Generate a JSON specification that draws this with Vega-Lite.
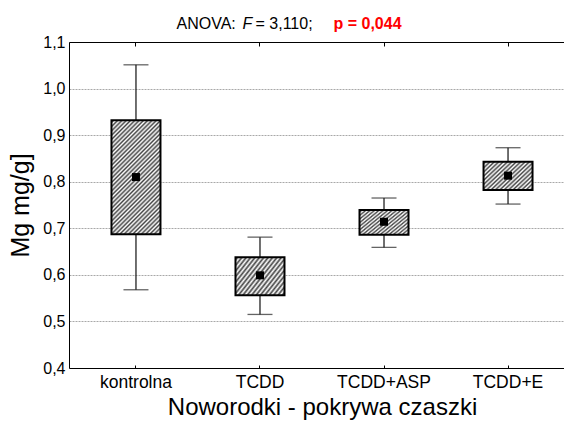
{
  "$schema": "https://vega.github.io/schema/vega-lite/v6.json",
  "width": 495,
  "height": 326,
  "autosize": "none",
  "padding": {"left": 69, "top": 42, "right": 0, "bottom": 61},
  "background": "white",
  "config": {
    "view": {"stroke": null},
    "font": "Liberation Sans",
    "axis": {"labelFont": "Liberation Sans", "titleFont": "Liberation Sans", "labelColor": "#000", "titleColor": "#000", "titleFontWeight": "normal", "domainColor": "#000", "domainWidth": 1, "tickColor": "#000"}
  },
  "data": {
    "values": [
      {"group": "kontrolna", "mean": 0.810, "lo": 0.687, "hi": 0.932, "wlo": 0.568, "whi": 1.051},
      {"group": "TCDD", "mean": 0.599, "lo": 0.556, "hi": 0.638, "wlo": 0.515, "whi": 0.681},
      {"group": "TCDD+ASP", "mean": 0.714, "lo": 0.686, "hi": 0.739, "wlo": 0.659, "whi": 0.765},
      {"group": "TCDD+E", "mean": 0.813, "lo": 0.782, "hi": 0.843, "wlo": 0.752, "whi": 0.873}
    ]
  },
  "resolve": {"axis": {"x": "independent", "y": "independent"}},
  "layer": [
    {
      "mark": {"type": "rule", "color": "#222", "strokeWidth": 1.3},
      "encoding": {
        "x": {"field": "group", "type": "nominal", "sort": ["kontrolna", "TCDD", "TCDD+ASP", "TCDD+E"],
          "scale": {"range": [0, 506], "paddingInner": 0, "paddingOuter": 0.04},
          "axis": {"orient": "bottom", "labelAngle": 0, "labelFontSize": 17.5, "labelPadding": 8, "ticks": true, "tickSize": -3, "tickWidth": 1, "domain": true, "grid": false,
            "title": "Noworodki - pokrywa czaszki", "titleFontSize": 24, "titleX": 253, "titleY": 46, "titleAlign": "center", "titleBaseline": "alphabetic"}},
        "y": {"field": "wlo", "type": "quantitative",
          "scale": {"domain": [0.4, 1.1], "nice": false, "zero": false},
          "axis": {"orient": "left", "values": [0.4, 0.5, 0.6, 0.7, 0.8, 0.9, 1.0, 1.1],
            "labelExpr": "replace(format(datum.value, '.1f'), '.', ',')", "labelFontSize": 16, "labelPadding": 4,
            "ticks": false, "tickSize": 0, "domain": true, "grid": true, "gridColor": "#a8a8a8", "gridDash": [2, 1], "gridWidth": 1,
            "title": "Mg mg/g]", "titleFontSize": 25, "titleX": -41, "titleY": 163, "titleAngle": 270, "titleAlign": "center", "titleBaseline": "alphabetic"}},
        "y2": {"field": "whi"}
      }
    },
    {
      "mark": {"type": "tick", "size": 25, "thickness": 1.3, "color": "#222"},
      "encoding": {
        "x": {"field": "group", "type": "nominal", "sort": ["kontrolna", "TCDD", "TCDD+ASP", "TCDD+E"],
          "axis": {"orient": "top", "labels": false, "ticks": true, "tickSize": -4, "tickWidth": 1, "domain": true, "grid": false,
            "title": "ANOVA:", "titleFontSize": 16, "titleX": 107, "titleY": -14, "titleAlign": "left", "titleBaseline": "alphabetic"}},
        "y": {"field": "whi", "type": "quantitative",
          "axis": {"orient": "right", "labels": false, "ticks": false, "domain": false, "grid": false,
            "title": "p = 0,044", "titleColor": "#ff0000", "titleFontWeight": "bold", "titleFontSize": 16, "titleAngle": 0,
            "titleX": -231, "titleY": -14, "titleAlign": "left", "titleBaseline": "alphabetic"}}
      }
    },
    {
      "mark": {"type": "tick", "size": 25, "thickness": 1.3, "color": "#222"},
      "encoding": {
        "x": {"field": "group", "type": "nominal", "sort": ["kontrolna", "TCDD", "TCDD+ASP", "TCDD+E"],
          "axis": {"orient": "top", "labels": false, "ticks": false, "domain": false, "grid": false,
            "title": "F", "titleFontStyle": "italic", "titleFontSize": 16, "titleX": 173, "titleY": -14, "titleAlign": "left", "titleBaseline": "alphabetic"}},
        "y": {"field": "wlo", "type": "quantitative", "axis": null}
      }
    },
    {
      "transform": [{"filter": "datum.group == 'kontrolna'"}],
      "mark": {"type": "bar", "width": 49, "stroke": "#000", "strokeWidth": 2,
        "fill": {"gradient": "linear", "x1": 0, "y1": 0, "x2": 0.5188, "y2": 1.2069, "stops": [
          {"offset": 0, "color": "#fff"}, {"offset": 0.0132, "color": "#444"}, {"offset": 0.0263, "color": "#fff"}, {"offset": 0.0395, "color": "#444"},
          {"offset": 0.0526, "color": "#fff"}, {"offset": 0.0658, "color": "#444"}, {"offset": 0.0789, "color": "#fff"}, {"offset": 0.0921, "color": "#444"},
          {"offset": 0.1053, "color": "#fff"}, {"offset": 0.1184, "color": "#444"}, {"offset": 0.1316, "color": "#fff"}, {"offset": 0.1447, "color": "#444"},
          {"offset": 0.1579, "color": "#fff"}, {"offset": 0.1711, "color": "#444"}, {"offset": 0.1842, "color": "#fff"}, {"offset": 0.1974, "color": "#444"},
          {"offset": 0.2105, "color": "#fff"}, {"offset": 0.2237, "color": "#444"}, {"offset": 0.2368, "color": "#fff"}, {"offset": 0.25, "color": "#444"},
          {"offset": 0.2632, "color": "#fff"}, {"offset": 0.2763, "color": "#444"}, {"offset": 0.2895, "color": "#fff"}, {"offset": 0.3026, "color": "#444"},
          {"offset": 0.3158, "color": "#fff"}, {"offset": 0.3289, "color": "#444"}, {"offset": 0.3421, "color": "#fff"}, {"offset": 0.3553, "color": "#444"},
          {"offset": 0.3684, "color": "#fff"}, {"offset": 0.3816, "color": "#444"}, {"offset": 0.3947, "color": "#fff"}, {"offset": 0.4079, "color": "#444"},
          {"offset": 0.4211, "color": "#fff"}, {"offset": 0.4342, "color": "#444"}, {"offset": 0.4474, "color": "#fff"}, {"offset": 0.4605, "color": "#444"},
          {"offset": 0.4737, "color": "#fff"}, {"offset": 0.4868, "color": "#444"}, {"offset": 0.5, "color": "#fff"}, {"offset": 0.5132, "color": "#444"},
          {"offset": 0.5263, "color": "#fff"}, {"offset": 0.5395, "color": "#444"}, {"offset": 0.5526, "color": "#fff"}, {"offset": 0.5658, "color": "#444"},
          {"offset": 0.5789, "color": "#fff"}, {"offset": 0.5921, "color": "#444"}, {"offset": 0.6053, "color": "#fff"}, {"offset": 0.6184, "color": "#444"},
          {"offset": 0.6316, "color": "#fff"}, {"offset": 0.6447, "color": "#444"}, {"offset": 0.6579, "color": "#fff"}, {"offset": 0.6711, "color": "#444"},
          {"offset": 0.6842, "color": "#fff"}, {"offset": 0.6974, "color": "#444"}, {"offset": 0.7105, "color": "#fff"}, {"offset": 0.7237, "color": "#444"},
          {"offset": 0.7368, "color": "#fff"}, {"offset": 0.75, "color": "#444"}, {"offset": 0.7632, "color": "#fff"}, {"offset": 0.7763, "color": "#444"},
          {"offset": 0.7895, "color": "#fff"}, {"offset": 0.8026, "color": "#444"}, {"offset": 0.8158, "color": "#fff"}, {"offset": 0.8289, "color": "#444"},
          {"offset": 0.8421, "color": "#fff"}, {"offset": 0.8553, "color": "#444"}, {"offset": 0.8684, "color": "#fff"}, {"offset": 0.8816, "color": "#444"},
          {"offset": 0.8947, "color": "#fff"}, {"offset": 0.9079, "color": "#444"}, {"offset": 0.9211, "color": "#fff"}, {"offset": 0.9342, "color": "#444"},
          {"offset": 0.9474, "color": "#fff"}, {"offset": 0.9605, "color": "#444"}, {"offset": 0.9737, "color": "#fff"}, {"offset": 0.9868, "color": "#444"},
          {"offset": 1, "color": "#fff"}
        ]}},
      "encoding": {
        "x": {"field": "group", "type": "nominal", "sort": ["kontrolna", "TCDD", "TCDD+ASP", "TCDD+E"],
          "axis": {"orient": "top", "labels": false, "ticks": false, "domain": false, "grid": false,
            "title": "= 3,110;", "titleFontSize": 16, "titleX": 186, "titleY": -14, "titleAlign": "left", "titleBaseline": "alphabetic"}},
        "y": {"field": "lo", "type": "quantitative", "axis": null},
        "y2": {"field": "hi"}
      }
    },
    {
      "transform": [{"filter": "datum.group != 'kontrolna'"}],
      "mark": {"type": "bar", "width": 49, "stroke": "#000", "strokeWidth": 2,
        "fill": {"gradient": "linear", "x1": 0, "y1": 0, "x2": 1.1727, "y2": 0.718, "stops": [
          {"offset": 0, "color": "#fff"}, {"offset": 0.0278, "color": "#444"}, {"offset": 0.0556, "color": "#fff"}, {"offset": 0.0833, "color": "#444"},
          {"offset": 0.1111, "color": "#fff"}, {"offset": 0.1389, "color": "#444"}, {"offset": 0.1667, "color": "#fff"}, {"offset": 0.1944, "color": "#444"},
          {"offset": 0.2222, "color": "#fff"}, {"offset": 0.25, "color": "#444"}, {"offset": 0.2778, "color": "#fff"}, {"offset": 0.3056, "color": "#444"},
          {"offset": 0.3333, "color": "#fff"}, {"offset": 0.3611, "color": "#444"}, {"offset": 0.3889, "color": "#fff"}, {"offset": 0.4167, "color": "#444"},
          {"offset": 0.4444, "color": "#fff"}, {"offset": 0.4722, "color": "#444"}, {"offset": 0.5, "color": "#fff"}, {"offset": 0.5278, "color": "#444"},
          {"offset": 0.5556, "color": "#fff"}, {"offset": 0.5833, "color": "#444"}, {"offset": 0.6111, "color": "#fff"}, {"offset": 0.6389, "color": "#444"},
          {"offset": 0.6667, "color": "#fff"}, {"offset": 0.6944, "color": "#444"}, {"offset": 0.7222, "color": "#fff"}, {"offset": 0.75, "color": "#444"},
          {"offset": 0.7778, "color": "#fff"}, {"offset": 0.8056, "color": "#444"}, {"offset": 0.8333, "color": "#fff"}, {"offset": 0.8611, "color": "#444"},
          {"offset": 0.8889, "color": "#fff"}, {"offset": 0.9167, "color": "#444"}, {"offset": 0.9444, "color": "#fff"}, {"offset": 0.9722, "color": "#444"},
          {"offset": 1, "color": "#fff"}
        ]}},
      "encoding": {
        "x": {"field": "group", "type": "nominal", "sort": ["kontrolna", "TCDD", "TCDD+ASP", "TCDD+E"], "axis": null},
        "y": {"field": "lo", "type": "quantitative", "axis": null},
        "y2": {"field": "hi"}
      }
    },
    {
      "mark": {"type": "point", "shape": "square", "size": 64, "filled": true, "color": "#000", "opacity": 1},
      "encoding": {
        "x": {"field": "group", "type": "nominal", "sort": ["kontrolna", "TCDD", "TCDD+ASP", "TCDD+E"], "axis": null},
        "y": {"field": "mean", "type": "quantitative", "axis": null}
      }
    }
  ]
}
